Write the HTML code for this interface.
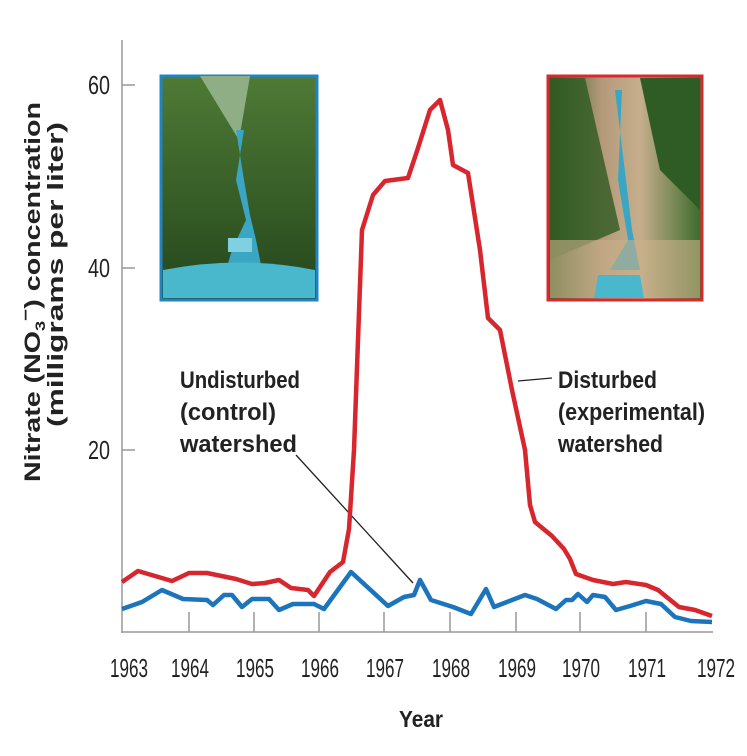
<!DOCTYPE html>
<html><head><meta charset="utf-8"><style>
body{margin:0;background:#fff}
svg{display:block}
text{font-family:"Liberation Sans",sans-serif;fill:#222}
</style></head><body>
<svg width="747" height="756" viewBox="0 0 747 756" xmlns="http://www.w3.org/2000/svg">
<defs>
<linearGradient id="g1" x1="0" y1="0" x2="0" y2="1"><stop offset="0" stop-color="#4e7a35"/><stop offset="1" stop-color="#24461c"/></linearGradient>
<linearGradient id="g2" x1="0" y1="0" x2="1" y2="0"><stop offset="0" stop-color="#2f5a22"/><stop offset="0.35" stop-color="#b49a7a"/><stop offset="0.6" stop-color="#c6ae8c"/><stop offset="1" stop-color="#3a6a2a"/></linearGradient>
</defs>
<g stroke="#999" stroke-width="1.5" fill="none">
<line x1="122" y1="40" x2="122" y2="633"/>
<line x1="121" y1="632" x2="713" y2="632"/>
<line x1="122" y1="85" x2="135" y2="85"/>
<line x1="122" y1="268" x2="135" y2="268"/>
<line x1="122" y1="450" x2="135" y2="450"/>
<path d="M189 612V632M254 612V632M319 612V632M384 612V632M450 612V632M516 612V632M580 612V632M646 612V632"/>
</g>
<g font-size="26" text-anchor="end"><text x="110" y="94" textLength="22" lengthAdjust="spacingAndGlyphs">60</text><text x="110" y="277" textLength="22" lengthAdjust="spacingAndGlyphs">40</text><text x="110" y="459" textLength="22" lengthAdjust="spacingAndGlyphs">20</text></g>
<g font-size="26">
<text x="110" y="677" textLength="38" lengthAdjust="spacingAndGlyphs">1963</text><text x="171" y="677" textLength="38" lengthAdjust="spacingAndGlyphs">1964</text><text x="236" y="677" textLength="38" lengthAdjust="spacingAndGlyphs">1965</text><text x="301" y="677" textLength="38" lengthAdjust="spacingAndGlyphs">1966</text><text x="366" y="677" textLength="38" lengthAdjust="spacingAndGlyphs">1967</text><text x="432" y="677" textLength="38" lengthAdjust="spacingAndGlyphs">1968</text><text x="498" y="677" textLength="38" lengthAdjust="spacingAndGlyphs">1969</text><text x="562" y="677" textLength="38" lengthAdjust="spacingAndGlyphs">1970</text><text x="628" y="677" textLength="38" lengthAdjust="spacingAndGlyphs">1971</text><text x="697" y="677" textLength="38" lengthAdjust="spacingAndGlyphs">1972</text>
</g>
<text x="399" y="727" font-size="23" font-weight="bold" textLength="44" lengthAdjust="spacingAndGlyphs">Year</text>
<g transform="translate(40,482) rotate(-90)" font-size="22" font-weight="bold">
<text x="0" y="0" textLength="380" lengthAdjust="spacingAndGlyphs">Nitrate (NO<tspan font-size="14" dy="5">3</tspan><tspan dy="-14" font-size="16">−</tspan><tspan dy="9">) concentration</tspan></text>
</g>
<g transform="translate(63,427) rotate(-90)" font-size="22" font-weight="bold">
<text x="0" y="0" textLength="305" lengthAdjust="spacingAndGlyphs">(milligrams per liter)</text>
</g>
<rect x="161" y="76" width="156" height="224" fill="url(#g1)" stroke="#1f84c4" stroke-width="3"/>
<path d="M200 76 L239 140 L250 76 Z" fill="#8fae86"/>
<path d="M236 130 L244 130 L236 180 L246 220 L232 250 L226 270 L262 270 L256 240 L250 215 L244 180 Z" fill="#3aa6c4"/>
<path d="M163 270 Q240 255 315 270 L315 298 L163 298 Z" fill="#49b7cc"/>
<rect x="228" y="238" width="24" height="14" fill="#7fd0e0"/>
<rect x="548" y="76" width="154" height="224" fill="url(#g2)" stroke="#d62a2f" stroke-width="3"/>
<path d="M550 78 L585 78 L620 230 L550 260 Z" fill="#2f5a22" opacity="0.8"/>
<path d="M640 78 L700 78 L700 210 L660 170 Z" fill="#2e5c24"/>
<path d="M615 90 L622 90 L618 180 L628 240 L610 270 L640 270 L632 230 L626 180 Z" fill="#3aa6c4"/>
<rect x="550" y="240" width="150" height="58" fill="#c9b08a" opacity="0.6"/>
<path d="M598 275 L640 275 L644 298 L594 298 Z" fill="#49b7cc"/>
<g font-size="24" font-weight="bold">
<text x="180" y="388" textLength="120" lengthAdjust="spacingAndGlyphs">Undisturbed</text><text x="180" y="420" textLength="96" lengthAdjust="spacingAndGlyphs">(control)</text><text x="180" y="452" textLength="117" lengthAdjust="spacingAndGlyphs">watershed</text>
<text x="558" y="388" textLength="99" lengthAdjust="spacingAndGlyphs">Disturbed</text><text x="558" y="420" textLength="147" lengthAdjust="spacingAndGlyphs">(experimental)</text><text x="558" y="452" textLength="105" lengthAdjust="spacingAndGlyphs">watershed</text>
</g>
<g stroke="#222" stroke-width="1.3"><line x1="296" y1="455" x2="413" y2="583"/><line x1="552" y1="378" x2="518" y2="381"/></g>
<polyline fill="none" stroke="#d8262e" stroke-width="4.5" stroke-linejoin="round" points="122,582 138,571 172,581 189,573 207,573 236,579 252,584 265,583 279,580 291,588 308,590 314,596 330,572 343,562 349,529 354,450 362,230 373,195 385,181 408,178 418,148 430,110 440,100 448,130 453,165 468,173 480,250 488,318 500,330 512,390 525,450 530,505 535,522 552,536 564,549 570,559 576,574 593,580 613,584 626,582 646,585 658,590 679,607 695,610 712,616"/>
<polyline fill="none" stroke="#1c75bc" stroke-width="4.5" stroke-linejoin="round" points="122,609 142,602 162,590 183,599 207,600 213,605 224,595 232,595 242,607 252,599 269,599 279,610 293,604 314,604 324,609 351,572 388,606 404,597 414,595 420,580 431,600 453,607 471,614 486,589 494,607 525,595 537,599 556,609 566,600 572,600 578,594 587,602 593,595 605,597 616,610 630,606 646,601 661,604 675,617 691,621 712,622"/>
</svg>
</body></html>
